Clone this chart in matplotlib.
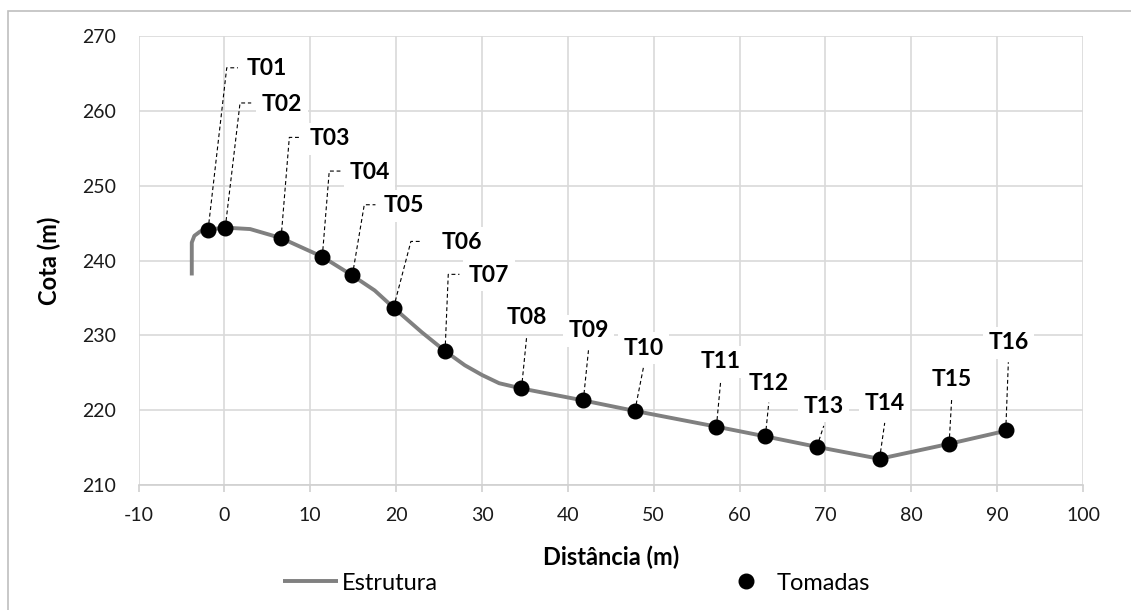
import matplotlib.pyplot as plt
from matplotlib.patches import Rectangle

plt.rcParams['font.family'] = ['Lato', 'DejaVu Sans']
plt.rcParams['axes.unicode_minus'] = False

# perfil da estrutura
estrutura_x = [-3.8, -3.8, -3.5, -2.8, -1.9, 0.0, 3.0, 6.6, 11.4, 14.9, 17.5, 19.7, 23.0, 25.7,
               28.0, 30.0, 32.0, 34.6, 41.8, 47.8, 57.3, 63.0, 69.0, 76.3, 84.4, 91.6]
estrutura_y = [238.0, 242.4, 243.3, 243.9, 244.1, 244.4, 244.2, 243.0, 240.5, 238.0, 236.0, 233.7,
               230.4, 227.9, 226.0, 224.7, 223.6, 222.9, 221.3, 219.9, 217.8, 216.5, 215.1, 213.5,
               215.5, 217.4]

# tomadas
tomadas_nomes = ['T01', 'T02', 'T03', 'T04', 'T05', 'T06', 'T07', 'T08',
                 'T09', 'T10', 'T11', 'T12', 'T13', 'T14', 'T15', 'T16']
tomadas_x = [-1.9, 0.1, 6.6, 11.4, 14.9, 19.7, 25.7, 34.6, 41.8, 47.8, 57.3, 63.0, 69.0, 76.3, 84.4, 91.0]
tomadas_y = [244.1, 244.4, 243.0, 240.5, 238.0, 233.7, 227.9, 222.9, 221.3, 219.9, 217.8, 216.5,
             215.1, 213.5, 215.5, 217.3]

# posicao dos rotulos (centro do texto)
rotulo_x = [4.9, 6.7, 12.3, 16.9, 20.9, 27.6, 30.8, 35.2, 42.4, 48.8, 57.8, 63.4, 69.8, 76.9, 84.7, 91.3]
rotulo_y = [265.6, 260.9, 256.3, 251.8, 247.3, 242.4, 238.0, 232.4, 230.6, 228.3, 226.5, 223.6,
            220.5, 220.9, 224.1, 229.0]
# cotovelo das linhas de chamada (so T01 a T07)
cotovelo_x = [0.27, 1.82, 7.56, 12.21, 16.29, 21.72, 26.07]

fig = plt.figure(figsize=(11.31, 6.10), dpi=100)
ax = fig.add_axes([0.1225, 0.2049, 0.8351, 0.7361])

linha, = ax.plot(estrutura_x, estrutura_y, color='#808080', lw=2.8, label='Estrutura', zorder=3,
                 solid_capstyle='butt')
pontos, = ax.plot(tomadas_x, tomadas_y, 'o', color='black', ms=10.5, label='Tomadas', zorder=4)

for i, nome in enumerate(tomadas_nomes):
    if i < len(cotovelo_x):
        cx = cotovelo_x[i]
        cy = rotulo_y[i] + 0.15
        ax.plot([tomadas_x[i], cx, cx + 1.3], [tomadas_y[i], cy, cy], color='black', lw=0.8,
                ls=(0, (3.5, 2.5)), zorder=2.5)
    else:
        ax.plot([tomadas_x[i], rotulo_x[i]], [tomadas_y[i], rotulo_y[i] - 2.6], color='black',
                lw=0.8, ls=(0, (3.5, 2.5)), zorder=2.5)
    ax.text(rotulo_x[i], rotulo_y[i], nome, ha='center', va='center', fontsize=16.5,
            fontweight='bold', color='black', zorder=2.6,
            bbox=dict(facecolor='white', edgecolor='none', pad=4))

ax.set_xlim(-10, 100)
ax.set_ylim(210, 270)
ax.set_xticks(range(-10, 101, 10))
ax.set_yticks(range(210, 271, 10))
ax.grid(True, color='#d9d9d9', lw=1.2)
ax.set_axisbelow(True)
for s in ['top', 'right', 'left']:
    ax.spines[s].set_visible(False)
ax.spines['bottom'].set_color('#d0d0d0')
ax.spines['bottom'].set_linewidth(1.2)
ax.tick_params(axis='x', length=5, color='#d0d0d0', width=1.2, labelsize=14, pad=11,
               labelcolor='#1a1a1a')
ax.tick_params(axis='y', length=0, labelsize=14, pad=16, labelcolor='#1a1a1a')

ax.set_xlabel('Distância (m)', fontsize=17, fontweight='bold', labelpad=15)
ax.set_ylabel('Cota (m)', fontsize=17, fontweight='bold', labelpad=15)

fig.legend(handles=[linha], loc='center left', bbox_to_anchor=(283 / 1131, 0.044), frameon=False,
           fontsize=17, handlelength=2.33, handletextpad=0.15, borderpad=0, borderaxespad=0)
fig.legend(handles=[pontos], loc='center left', bbox_to_anchor=(718 / 1131, 0.044), frameon=False,
           fontsize=17, handlelength=2.33, handletextpad=0.15, borderpad=0, borderaxespad=0)

fig.patches.append(Rectangle((7.5 / 1131, -0.1), 1.2, 1.1 - 11 / 610, transform=fig.transFigure,
                             fill=False, edgecolor='#bfbfbf', lw=1.2))

fig.savefig('out.png', dpi=100)
